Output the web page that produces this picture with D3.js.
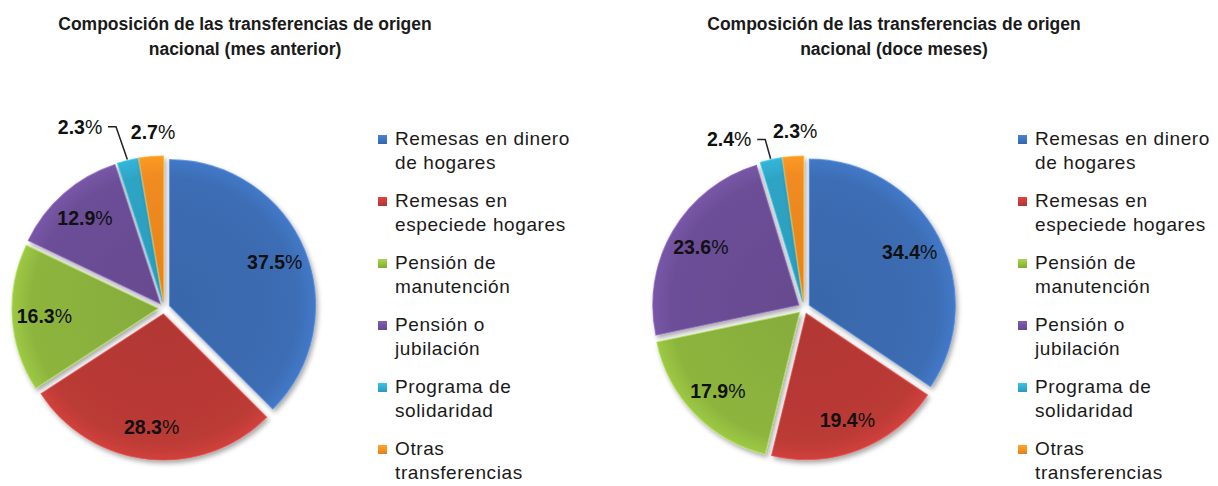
<!DOCTYPE html>
<html><head><meta charset="utf-8">
<script src="https://cdn.jsdelivr.net/npm/d3@7"></script>
<style>html,body{margin:0;padding:0;background:#fff;}svg{display:block;}</style>
</head><body>
<svg id="c" width="1218" height="486"></svg>
<script>
const categories = ["Remesas en dinero de hogares","Remesas en especiede hogares","Pensión de manutención","Pensión o jubilación","Programa de solidaridad","Otras transferencias"];
const legendLines = [["Remesas en dinero","de hogares"],["Remesas en","especiede hogares"],["Pensión de","manutención"],["Pensión o","jubilación"],["Programa de","solidaridad"],["Otras","transferencias"]];
const valuesMesAnterior = [37.5, 28.3, 16.3, 12.9, 2.3, 2.7];
const valuesDoceMeses = [34.4, 19.4, 17.9, 23.6, 2.4, 2.3];
const titlesMesAnterior = ["Composición de las transferencias de origen","nacional (mes anterior)"];
const titlesDoceMeses = ["Composición de las transferencias de origen","nacional (doce meses)"];
const colors = ["#3c6db4","#bb3a36","#8db53e","#6c4e97","#2fa4c4","#f18b20"];

const svg = d3.select("#c");
const defs = svg.append("defs");
const f = defs.append("filter").attr("id","sh").attr("x","-20%").attr("y","-20%").attr("width","140%").attr("height","140%");
f.append("feDropShadow").attr("dx",2).attr("dy",3).attr("stdDeviation",2.5).attr("flood-color","#000").attr("flood-opacity",0.35);
colors.forEach((c,i)=>{
  const g = defs.append("radialGradient").attr("id","g"+i).attr("gradientUnits","userSpaceOnUse")
    .attr("cx",0).attr("cy",0).attr("r",150);
  g.append("stop").attr("offset","0%").attr("stop-color",d3.color(c).darker(0.15));
  g.append("stop").attr("offset","85%").attr("stop-color",c);
  g.append("stop").attr("offset","100%").attr("stop-color",d3.color(c).brighter(0.35));
  const lg = defs.append("linearGradient").attr("id","lg"+i).attr("x1",0).attr("y1",0).attr("x2",0).attr("y2",1);
  lg.append("stop").attr("offset","0%").attr("stop-color",d3.color(c).brighter(0.5));
  lg.append("stop").attr("offset","100%").attr("stop-color",d3.color(c).darker(0.2));
});

const FONT = "Liberation Sans, Arial, sans-serif";

function drawChart(cfg){
  const {values, titles, cx, cy, r, titleX, legendX, smallLabelDx} = cfg;
  const g = svg.append("g");
  g.append("text").attr("x",titleX).attr("y",30).attr("text-anchor","middle")
    .attr("font-family",FONT).attr("font-weight","bold").attr("font-size",17.5).attr("fill","#1a1a1a")
    .selectAll("tspan").data(titles).join("tspan").attr("x",titleX).attr("dy",(d,i)=>i?25:0).text(d=>d);

  const pie = d3.pie().sort(null).value(d=>d);
  const arcs = pie(values);
  const arc = d3.arc().innerRadius(0).outerRadius(r);
  const off = 6;
  const pg = g.append("g").attr("transform",`translate(${cx},${cy})`);
  arcs.forEach((a,i)=>{
    const m = (a.startAngle+a.endAngle)/2;
    a.mid = m; a.dx = Math.sin(m)*off; a.dy = -Math.cos(m)*off;
  });
  pg.selectAll("path.s").data(arcs).join("path").attr("class","s")
    .attr("transform",d=>`translate(${d.dx},${d.dy})`)
    .attr("d",arc).attr("fill",(d,i)=>`url(#g${i})`).attr("filter","url(#sh)")
    .attr("stroke",(d,i)=>d3.color(colors[i]).brighter(0.6)).attr("stroke-width",1.2).attr("stroke-opacity",0.7);

  const fmt = d3.format(".1f");
  const big = arcs.filter(d=>d.data>=5);
  const lt = pg.selectAll("text.l").data(big).join("text").attr("class","l")
    .attr("x",d=>Math.sin(d.mid)*r*0.78+d.dx).attr("y",d=>-Math.cos(d.mid)*r*0.78+d.dy+7)
    .attr("text-anchor","middle").attr("font-family",FONT).attr("font-size",19.5).attr("fill","#111");
  lt.append("tspan").attr("font-weight","bold").text(d=>fmt(d.data));
  lt.append("tspan").text("%");

  const orange = arcs[5], cyan = arcs[4];
  const oR = r + off + 25;
  const ox = Math.sin(orange.mid)*oR + 4, oy = -Math.cos(orange.mid)*oR;
  const ot = pg.append("text").attr("x",ox).attr("y",oy+7).attr("text-anchor","middle")
    .attr("font-family",FONT).attr("font-size",19.5).attr("fill","#111");
  ot.append("tspan").attr("font-weight","bold").text(fmt(orange.data));
  ot.append("tspan").text("%");
  const cxl = ox + smallLabelDx[0], cyl = oy + smallLabelDx[1];
  const ct = pg.append("text").attr("x",cxl).attr("y",cyl+7).attr("text-anchor","middle")
    .attr("font-family",FONT).attr("font-size",19.5).attr("fill","#111");
  ct.append("tspan").attr("font-weight","bold").text(fmt(cyan.data));
  ct.append("tspan").text("%");
  const ex = Math.sin(cyan.mid)*(r+off+1), ey = -Math.cos(cyan.mid)*(r+off+1);
  pg.append("path").attr("d",`M${cxl+28},${cyl}L${cxl+36},${cyl}L${ex},${ey}`)
    .attr("fill","none").attr("stroke","#222").attr("stroke-width",1.5);

  const lgG = g.append("g").attr("transform",`translate(${legendX},0)`);
  legendLines.forEach((lines,i)=>{
    const y0 = 145 + i*62;
    lgG.append("rect").attr("x",0).attr("y",y0-10).attr("width",9).attr("height",9).attr("fill",`url(#lg${i})`);
    lgG.append("text").attr("x",17).attr("y",y0).attr("font-family",FONT).attr("font-size",19).attr("letter-spacing",0.6).attr("fill","#1a1a1a")
      .selectAll("tspan").data(lines).join("tspan").attr("x",17).attr("dy",(d,j)=>j?23.5:0).text(d=>d);
  });
}

drawChart({values: valuesMesAnterior, titles: titlesMesAnterior, cx:164, cy:308, r:146, titleX:245, legendX:378, smallLabelDx:[-73,-5]});
drawChart({values: valuesDoceMeses, titles: titlesDoceMeses, cx:804, cy:308, r:146, titleX:894, legendX:1018, smallLabelDx:[-66,8]});
</script>
</body></html>
